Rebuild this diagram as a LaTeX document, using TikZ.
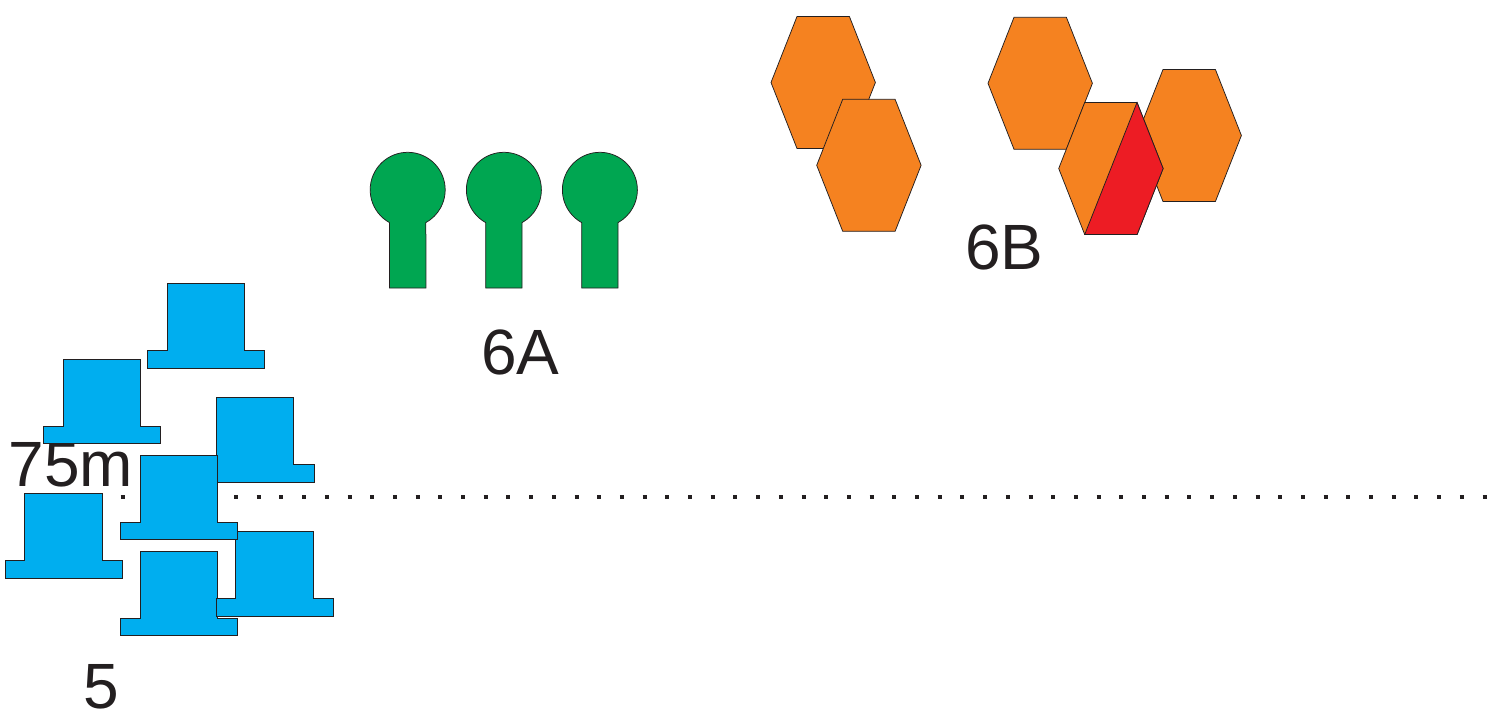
\documentclass[tikz,border=0pt]{standalone}
\usepackage{fontspec}
\setmainfont{Liberation Sans}
\definecolor{hatblue}{HTML}{00AEEF}
\definecolor{pingreen}{HTML}{00A651}
\definecolor{hexorange}{HTML}{F58220}
\definecolor{hexred}{HTML}{ED1C24}
\definecolor{ink}{HTML}{231F20}
\tikzset{
  outline/.style={draw=ink,line width=0.75pt,line join=miter},
  hatshape/.style={outline,fill=hatblue},
  pinshape/.style={outline,fill=pingreen},
  hexshape/.style={outline,fill=hexorange},
  redshape/.style={outline,fill=hexred},
  biglabel/.style={anchor=base west,inner sep=0pt,outer sep=0pt,text=ink,font=\fontsize{64}{64}\selectfont},
  dotline/.style={draw=ink,line width=4pt,dash pattern=on 4pt off 18.7pt}
}
% top-left corner of the crown, in reference pixels
\newcommand{\tophat}[2]{%
  \path[hatshape,shift={(#1,-#2)}] (0,0) -- (77.3,0) -- (77.3,-67) -- (97.7,-67) -- (97.7,-84.8)
    -- (-19.5,-84.8) -- (-19.5,-67) -- (0,-67) -- cycle;}
% left point x and top y
\newcommand{\hexa}[2]{%
  \path[hexshape,shift={(#1,-#2)}] (26,0) -- (78.4,0) -- (104.4,-66) -- (78.4,-132) -- (26,-132) -- (0,-66) -- cycle;}
% centre x of the head
\newcommand{\pinhead}[1]{%
  \path[pinshape,shift={(#1,0)}] (-18.2,-288) -- (-18.2,-222.6)
    arc[start angle=241,end angle=-61,radius=37.5] -- (18.2,-288) -- cycle;}
\begin{document}
\begin{tikzpicture}[x=1pt,y=1pt]
\useasboundingbox (0,0) rectangle (1495,-720);
% dotted line
\coordinate (dotstart) at (120.5,-497.3);
\coordinate (dotend) at (1487,-497.3);
\path[dotline] (dotstart) -- (dotend);
% labels
\node[biglabel] (l75) at (8.7,-486) {75m};
\node[biglabel] (l5) at (83.2,-708.3) {5};
\node[biglabel] (l6a) at (481,-374.3) {6A};
\node[biglabel] (l6b) at (965.3,-269.3) {6B};
% blue hats
\tophat{167}{283.5}
\tophat{63}{359}
\tophat{24.6}{493.3}
\tophat{216.5}{397.3}
\tophat{140}{551}
\tophat{235.7}{531.7}
\tophat{140}{455}
% green pins
\pinhead{407.7}
\pinhead{503.9}
\pinhead{599.9}
% orange hexagons
\hexa{771}{16.5}
\hexa{816.7}{99.3}
\hexa{988}{17.3}
\hexa{1137}{69.5}
\hexa{1058.7}{102.5}
\path[redshape] (1137,-102.5) -- (1163.1,-168.5) -- (1137.1,-234.5) -- (1084.7,-234.5) -- cycle;
\end{tikzpicture}
\end{document}
